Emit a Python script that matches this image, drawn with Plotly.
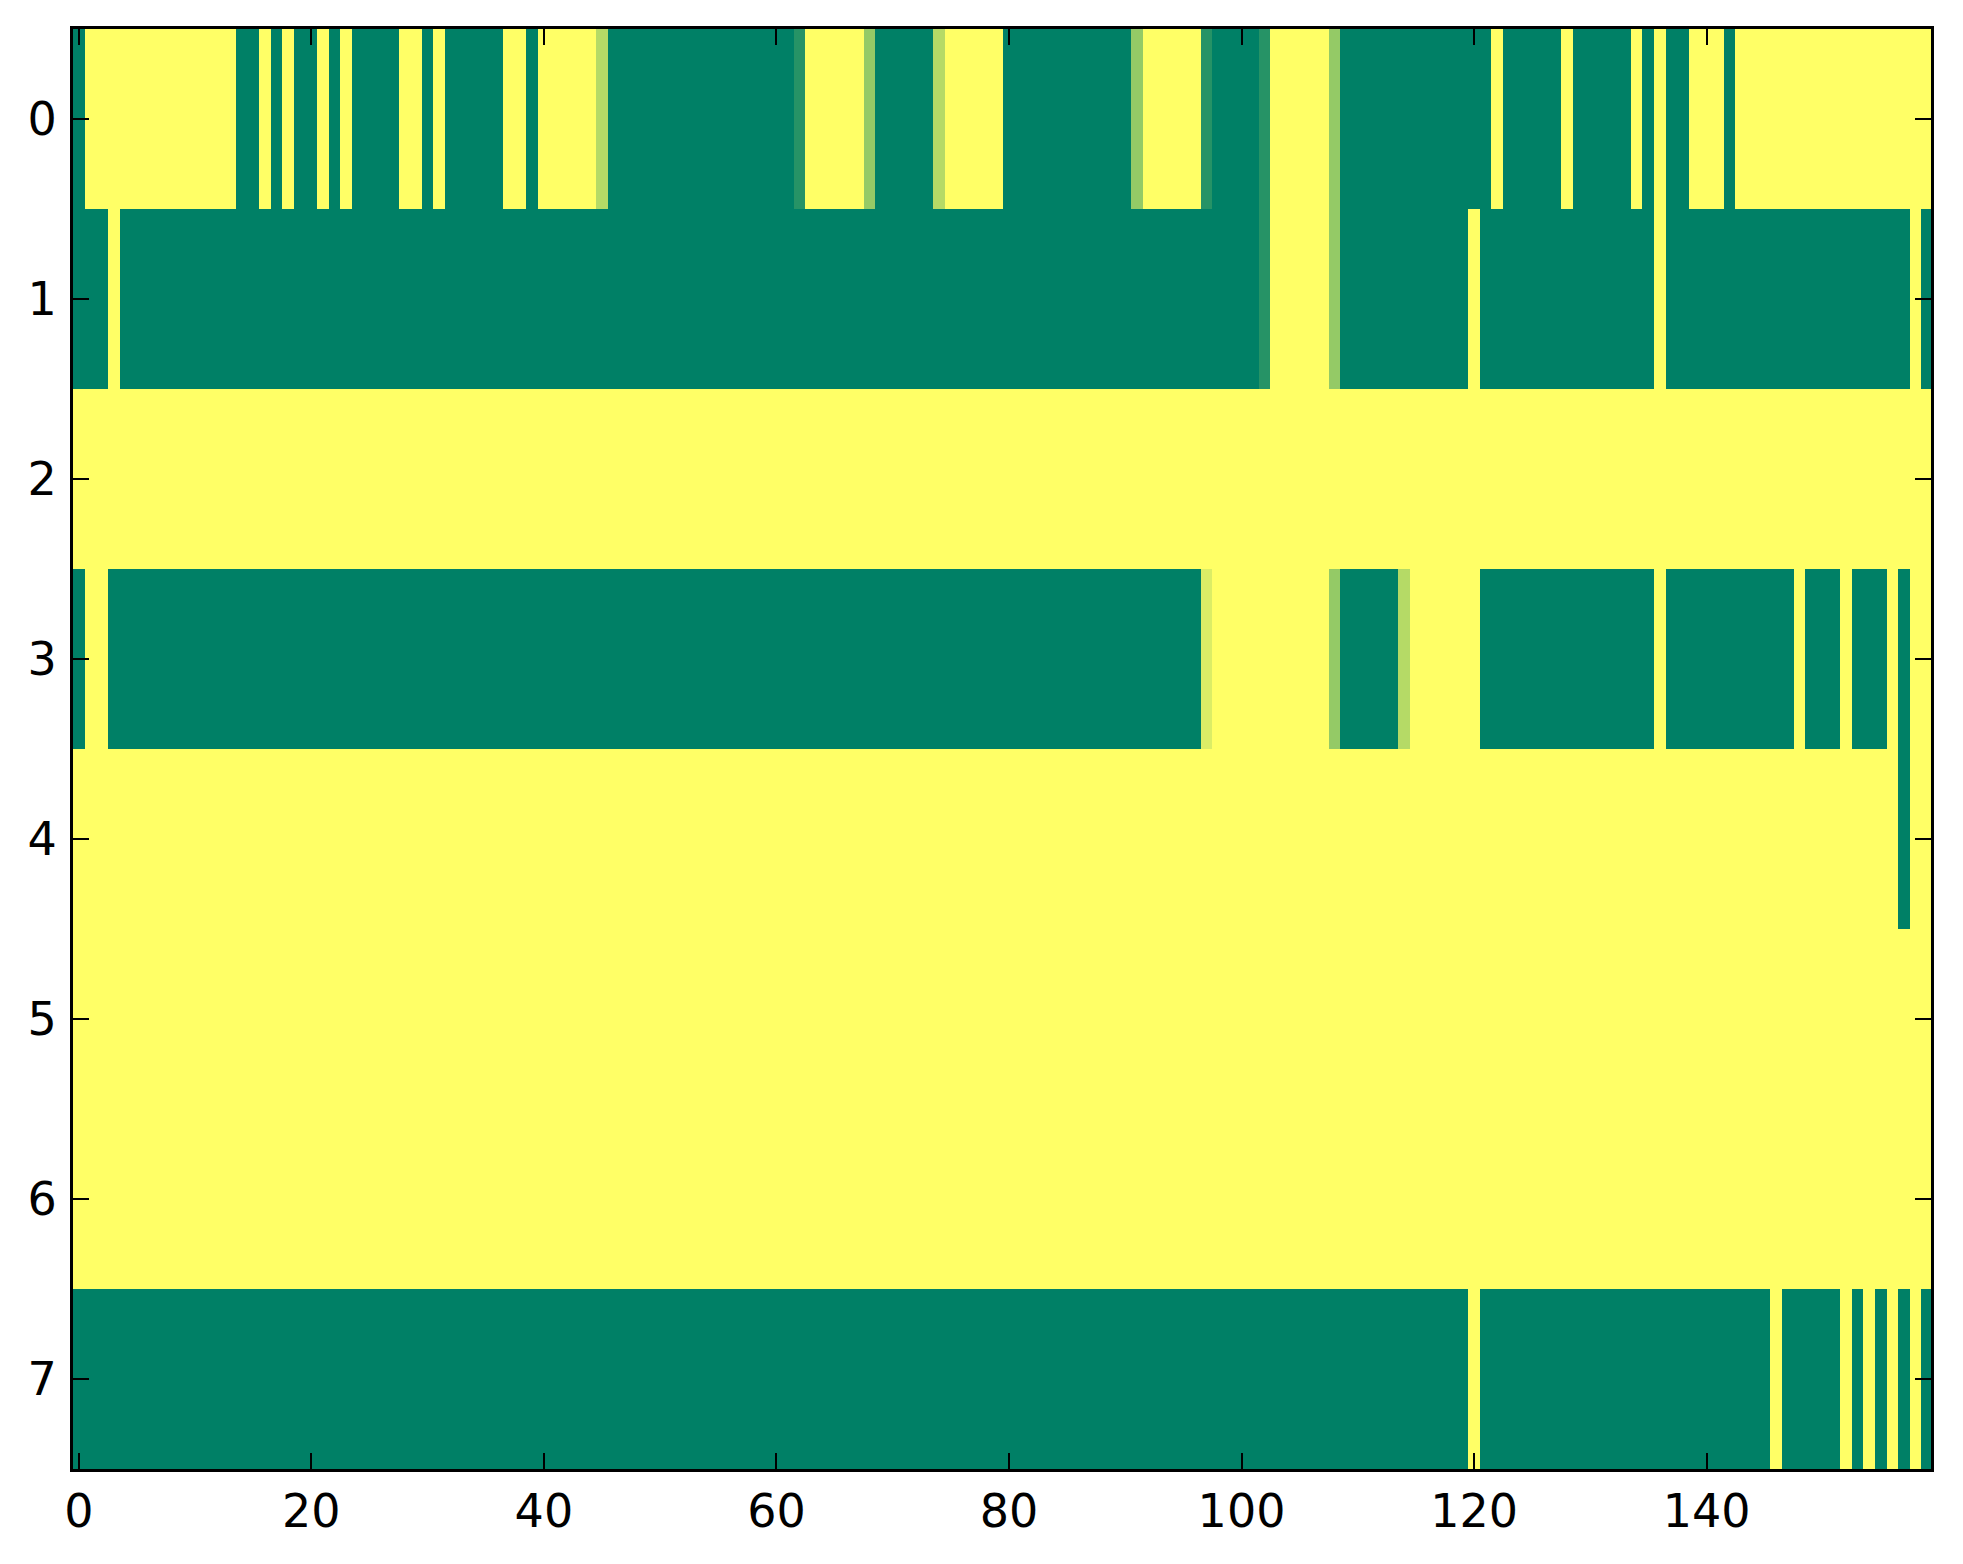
import plotly.graph_objects as go

# cell values, as (value, run length) per row
# 0.0 = green end of the "summer" map, 1.0 = yellow end
row0_runs = [(0, 1), (1, 13), (0, 2), (1, 1), (0, 1), (1, 1), (0, 2), (1, 1), (0, 1), (1, 1),
             (0, 4), (1, 2), (0, 1), (1, 1), (0, 5), (1, 2), (0, 1), (1, 5), (0.71, 1), (0, 16),
             (0.15, 1), (1, 5), (0.58, 1), (0, 5), (0.71, 1), (1, 5), (0, 11), (0.58, 1), (1, 5),
             (0.15, 1), (0, 4), (0.15, 1), (1, 5), (0.58, 1), (0, 13), (1, 1), (0, 5), (1, 1),
             (0, 5), (1, 1), (0, 1), (1, 1), (0, 2), (1, 3), (0, 1), (1, 17)]
row1_runs = [(0, 3), (1, 1), (0, 98), (0.15, 1), (1, 5), (0.58, 1), (0, 11), (1, 1), (0, 15),
             (1, 1), (0, 21), (1, 1), (0, 1)]
row2_runs = [(1, 160)]
row3_runs = [(0, 1), (1, 2), (0, 94), (0.86, 1), (1, 10), (0.58, 1), (0, 5), (0.71, 1), (1, 6),
             (0, 15), (1, 1), (0, 11), (1, 1), (0, 3), (1, 1), (0, 3), (1, 1), (0, 1), (1, 2)]
row4_runs = [(1, 157), (0, 1), (1, 2)]
row5_runs = [(1, 160)]
row6_runs = [(1, 160)]
row7_runs = [(0, 120), (1, 1), (0, 25), (1, 1), (0, 5), (1, 1), (0, 1), (1, 1), (0, 1), (1, 1),
             (0, 1), (1, 1), (0, 1)]

x_ticks = [0, 20, 40, 60, 80, 100, 120, 140]
y_ticks = [0, 1, 2, 3, 4, 5, 6, 7]

all_runs = [row0_runs, row1_runs, row2_runs, row3_runs, row4_runs, row5_runs, row6_runs, row7_runs]


def expand(runs):
    cells = []
    for val, n in runs:
        cells.extend([val] * n)
    return cells


z = [expand(r) for r in all_runs]
n_cols = len(z[0])

summer = [[0.0, "rgb(0,128,102)"], [1.0, "rgb(255,255,102)"]]

fig = go.Figure(
    go.Heatmap(
        z=z,
        x=list(range(n_cols)),
        y=y_ticks,
        colorscale=summer,
        zmin=0,
        zmax=1,
        showscale=False,
        hoverinfo="skip",
    )
)

axis_style = dict(
    showline=True,
    linecolor="black",
    linewidth=3,
    mirror="ticks",
    ticks="inside",
    ticklen=16,
    tickwidth=1.5,
    tickcolor="black",
    showgrid=False,
    zeroline=False,
    tickfont=dict(family="DejaVu Sans", size=46, color="black"),
)

# page body keeps its default 8px margin, so the figure is 8px smaller
fig.update_layout(
    width=1955,
    height=1556,
    margin=dict(l=65, r=32, t=21, b=95),
    paper_bgcolor="white",
    plot_bgcolor="white",
    xaxis=dict(range=[-0.5, 159.3], tickvals=x_ticks, **axis_style),
    yaxis=dict(range=[7.5, -0.5], tickvals=y_ticks, ticklabelstandoff=4, **axis_style),
)

fig.write_html("out.html")
